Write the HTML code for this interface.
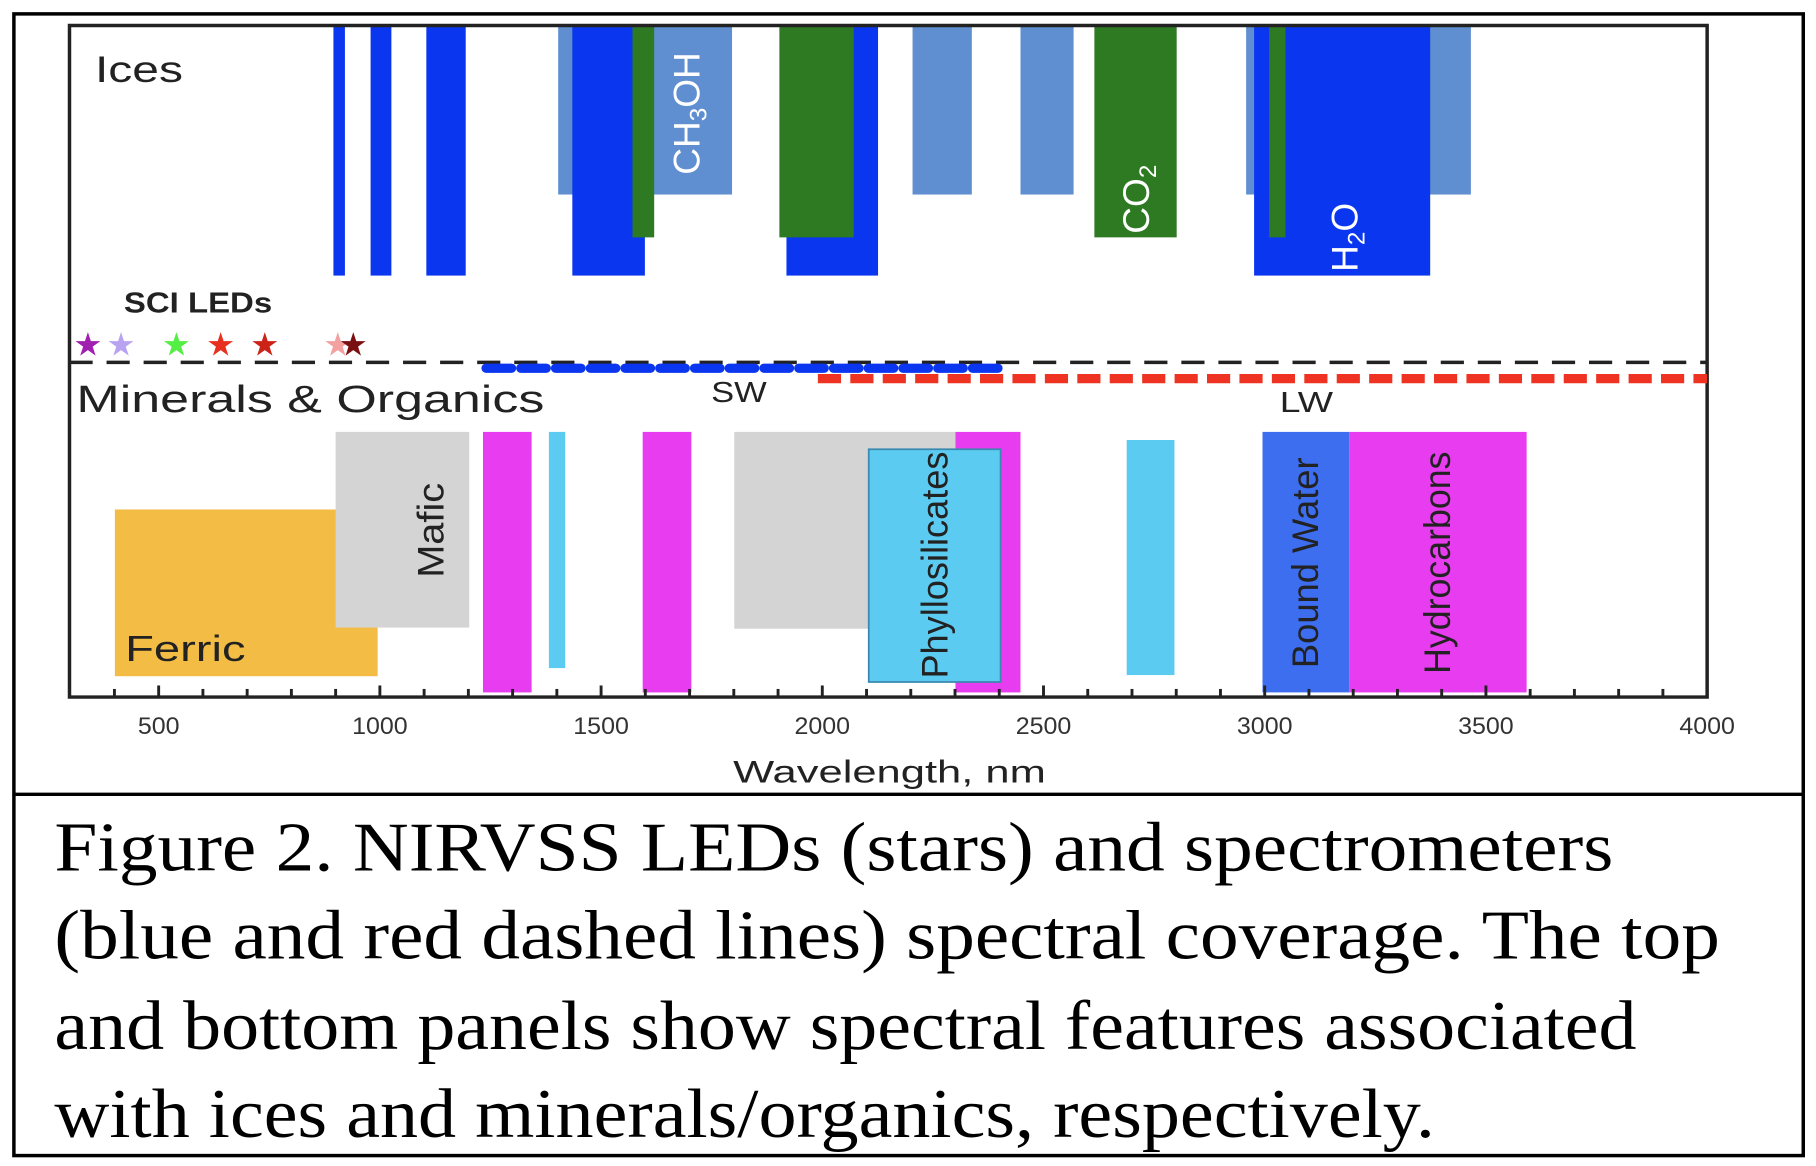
<!DOCTYPE html>
<html><head><meta charset="utf-8"><style>
html,body{margin:0;padding:0;background:#fff;}
svg{display:block;}
</style></head><body>
<svg id="fig" width="1816" height="1166" viewBox="0 0 1568 1007" preserveAspectRatio="none" xmlns="http://www.w3.org/2000/svg">
<rect x="12" y="12" width="1545" height="986" fill="#fff" stroke="#000" stroke-width="3"/>
<line x1="12" y1="686" x2="1557" y2="686" stroke="#000" stroke-width="3"/>
<g id="plot"></g>
<g font-family="'Liberation Serif', serif" font-size="60" fill="#000">
<text x="47" y="752" textLength="1346" lengthAdjust="spacingAndGlyphs">Figure 2.  NIRVSS LEDs (stars) and spectrometers</text>
<text x="47" y="828" textLength="1438" lengthAdjust="spacingAndGlyphs">(blue and red dashed lines) spectral coverage.  The top</text>
<text x="47" y="906" textLength="1366" lengthAdjust="spacingAndGlyphs">and bottom panels show spectral features associated</text>
<text x="47" y="982" textLength="1192" lengthAdjust="spacingAndGlyphs">with ices and minerals/organics, respectively.</text>
</g>
</svg>
<script>
const iceStart = [1403, 2204, 2448, 2958, 895, 979, 1105, 1435, 1919, 2976, 1571, 1903, 2615, 3010];
const iceEnd   = [1796, 2338, 2568, 3466, 921, 1026, 1194, 1599, 2126, 3374, 1620, 2071, 2801, 3047];
const iceKind  = ['light','light','light','light','blue','blue','blue','blue','blue','blue','green','green','green','green'];
const minStart = [401, 900, 1233, 1382, 1594, 1801, 2301, 2105, 2688, 2995, 3191];
const minEnd   = [995, 1202, 1343, 1419, 1704, 2301, 2448, 2403, 2796, 3191, 3592];
const minKind  = ['ferric','mafic','mag','cyan','mag','gray','mag','phyllo','cyan2','bound','hydro'];
const ledNm    = [340, 415, 540, 640, 740, 905, 940];
const ledColor = ['#a020b0','#b9a3f0','#55ee44','#e83020','#cc2218','#f2a0a0','#7a1010'];
const tickLabels = [500,1000,1500,2000,2500,3000,3500,4000];
const swRange = [1240, 2400];
const lwRange = [1990, 4000];

const NS='http://www.w3.org/2000/svg';
const g=document.getElementById('plot');
const X0=137, XS=0.382;
function x(nm){return X0+(nm-500)*XS;}
function el(tag,attrs,parent){const e=document.createElementNS(NS,tag);for(const k in attrs)e.setAttribute(k,attrs[k]);(parent||g).appendChild(e);return e;}
const TOP=22, AX=602, LEFT=60, RIGHT=1474;

const iceStyle={light:['#5f8fd0',168],blue:['#0a36f0',238],green:['#2e7a22',205]};
for(let i=0;i<iceStart.length;i++){
  const s=iceStyle[iceKind[i]];
  const r=el('rect',{x:x(iceStart[i]),y:TOP,width:x(iceEnd[i])-x(iceStart[i]),height:s[1]-TOP,fill:s[0]});
  
  
}
const minStyle={ferric:['#f3bd45',440,584],mafic:['#d4d4d4',373,542],mag:['#e83cf0',373,598],cyan:['#5ccbf2',373,577],gray:['#d4d4d4',373,543],phyllo:['#5ccbf2',388,589],cyan2:['#5ccbf2',380,583],bound:['#3d6ef0',373,598],hydro:['#e83cf0',373,598]};
for(let i=0;i<minStart.length;i++){
  const s=minStyle[minKind[i]];
  const a={x:x(minStart[i]),y:s[1],width:x(minEnd[i])-x(minStart[i]),height:s[2]-s[1],fill:s[0]};
  if(minKind[i]==='phyllo'){a.stroke='#3a88b0';a['stroke-width']=1.5;}
  const r=el('rect',a);
  
  
}
const fr=el('path',{d:`M${LEFT} ${AX} V${TOP} H${RIGHT} V${AX} Z`,fill:'none',stroke:'#222',"stroke-width":3});


const dl=el('line',{x1:LEFT,y1:313,x2:RIGHT,y2:313,stroke:'#222','stroke-width':3,'stroke-dasharray':'20 12'});


const sw=el('line',{x1:x(swRange[0]),y1:318,x2:x(swRange[1]),y2:318,stroke:'#0a36f0','stroke-width':8,'stroke-dasharray':'22 8','stroke-linecap':'round'});


const lw=el('line',{x1:x(lwRange[0]),y1:327,x2:x(lwRange[1]),y2:327,stroke:'#ee3322','stroke-width':8,'stroke-dasharray':'20 8'});


for(let i=0;i<ledNm.length;i++){
  const t=el('text',{x:x(ledNm[i]),y:307,'text-anchor':'middle','font-size':28,fill:ledColor[i],'font-family':'DejaVu Sans, sans-serif'});
  t.textContent='★';
  
  
}
for(let nm=400;nm<=3900;nm+=100){
  const big=nm%500===0;
  const t=el('line',{x1:x(nm),y1:AX,x2:x(nm),y2:AX-(big?10:7),stroke:'#222','stroke-width':2.5});
  
  
}
for(const v of tickLabels){
  const w=String(v).length*12;
  const t=el('text',{x:x(v),y:634,'text-anchor':'middle','font-size':21,fill:'#333','font-family':'Liberation Sans, sans-serif',textLength:w,lengthAdjust:'spacingAndGlyphs'});
  t.textContent=v;
  
  
}
function label(txt,xx,yy,size,attrs,name){
  const a=Object.assign({x:xx,y:yy,'font-size':size,fill:'#222','font-family':'Liberation Sans, DejaVu Sans, sans-serif'},attrs||{});
  const t=el('text',a);t.textContent=txt;
  
  
  return t;
}
const LA='spacingAndGlyphs';
label('Wavelength, nm',633,676,27,{textLength:270,lengthAdjust:LA},'x-axis-title');
label('Ices',82,71,32,{textLength:76,lengthAdjust:LA},'ices-panel-label');
label('SCI LEDs',107,270,25,{'font-weight':'bold',textLength:128,lengthAdjust:LA},'sci-leds-label');
label('Minerals & Organics',66,356,33,{textLength:404,lengthAdjust:LA},'minerals-panel-label');
label('SW',614,347,25,{textLength:48,lengthAdjust:LA},'sw-label');
label('LW',1105,356,25,{textLength:46,lengthAdjust:LA},'lw-label');
label('Ferric',108,571,31,{textLength:104,lengthAdjust:LA},'ferric-label');
label('Mafic',383,458,32,{'text-anchor':'middle',transform:'rotate(-90 383 458)',textLength:82,lengthAdjust:LA},'mafic-label');
label('Phyllosilicates',818,488,32,{'text-anchor':'middle',transform:'rotate(-90 818 488)',textLength:196,lengthAdjust:LA},'phyllosilicates-label');
label('Bound Water',1138,486,32,{'text-anchor':'middle',transform:'rotate(-90 1138 486)',textLength:182,lengthAdjust:LA},'bound-water-label');
label('Hydrocarbons',1252,486,32,{'text-anchor':'middle',transform:'rotate(-90 1252 486)',textLength:192,lengthAdjust:LA},'hydrocarbons-label');
const ch=label('',604,98,32,{'text-anchor':'middle',fill:'#fff',transform:'rotate(-90 604 98)'},'ch3oh-label');
ch.innerHTML='CH<tspan font-size="21" dy="6">3</tspan><tspan dy="-6">OH</tspan>';
const co=label('',992,172,32,{'text-anchor':'middle',fill:'#fff',transform:'rotate(-90 992 172)'},'co2-label');
co.innerHTML='CO<tspan font-size="21" dy="6">2</tspan>';
const h2o=label('',1172,205,32,{'text-anchor':'middle',fill:'#fff',transform:'rotate(-90 1172 205)'},'h2o-label');
h2o.innerHTML='H<tspan font-size="21" dy="6">2</tspan><tspan dy="-6">O</tspan>';
</script>
</body></html>
